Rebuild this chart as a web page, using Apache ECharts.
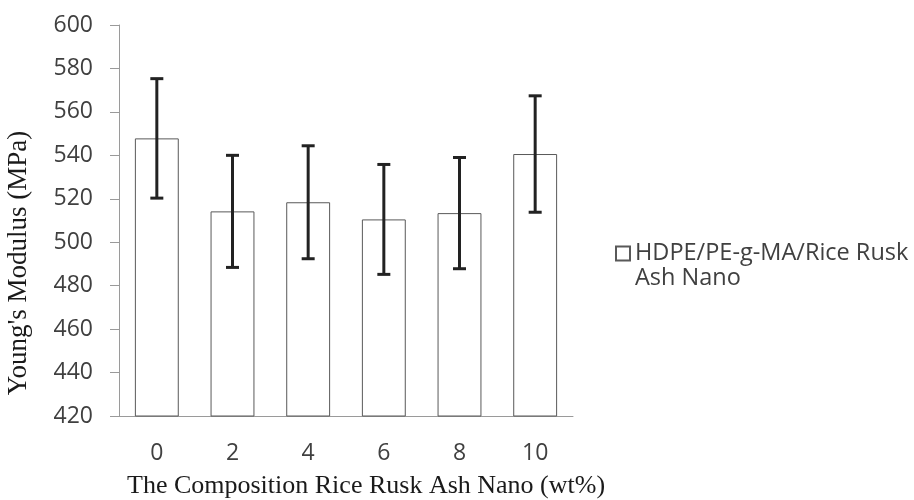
<!DOCTYPE html>
<html>
<head>
<meta charset="utf-8">
<script src="https://cdn.jsdelivr.net/npm/echarts@6/dist/echarts.min.js"></script>
<style>html,body{margin:0;padding:0;background:#fff}#main{width:914px;height:500px}</style>
</head>
<body>
<div id="main"></div>
<script>
var categories = ['0', '2', '4', '6', '8', '10'];
var modulus = [547.8, 514.2, 518.4, 510.5, 513.4, 540.6];
var stdDev = [27.5, 25.8, 26.0, 25.3, 25.6, 26.8];
var yTicks = [420, 440, 460, 480, 500, 520, 540, 560, 580, 600];
var seriesName = 'HDPE/PE-g-MA/Rice Rusk\nAsh Nano';
var xTitle = 'The Composition Rice Rusk Ash Nano (wt%)';
var yTitle = "Young's Modulus (MPa)";

var errorData = categories.map(function (c, i) {
  return [i, modulus[i] - stdDev[i], modulus[i] + stdDev[i]];
});

var chart = echarts.init(document.getElementById('main'));
chart.setOption({
  animation: false,
  backgroundColor: '#fff',
  grid: { left: 119, right: 341, top: 25, bottom: 84, containLabel: false },
  legend: {
    left: 615, top: 241, padding: 0,
    itemWidth: 14, itemHeight: 39,
    data: [{ name: seriesName, icon: 'path://M0,0L14,0L14,14L0,14Z M0,39' }],
    textStyle: { fontFamily: 'Open Sans', fontSize: 23.5, color: '#404040', lineHeight: 25 },
    itemGap: 5
  },
  xAxis: {
    type: 'category',
    data: categories,
    axisLine: { lineStyle: { color: '#9a9a9a', width: 1 } },
    axisTick: { show: false },
    axisLabel: { fontFamily: 'Open Sans', fontSize: 23, color: '#404040', margin: 26 }
  },
  yAxis: {
    type: 'value',
    min: yTicks[0], max: yTicks[yTicks.length - 1], interval: 20,
    splitLine: { show: false },
    axisLine: { show: true, lineStyle: { color: '#9a9a9a', width: 1 } },
    axisTick: { show: true, length: 9, lineStyle: { color: '#9a9a9a' } },
    axisLabel: { fontFamily: 'Open Sans', fontSize: 23, color: '#404040', margin: 26 }
  },
  series: [
    {
      name: seriesName,
      type: 'bar',
      data: modulus,
      barWidth: '58%',
      itemStyle: { color: '#ffffff', borderColor: '#595959', borderWidth: 1 }
    },
    {
      type: 'custom',
      name: 'error',
      data: errorData,
      z: 10,
      renderItem: function (params, api) {
        var x = api.value(0);
        var lo = api.coord([x, api.value(1)]);
        var hi = api.coord([x, api.value(2)]);
        var hw = 6.5;
        var st = { stroke: '#222', lineWidth: 3 };
        return {
          type: 'group',
          children: [
            { type: 'line', shape: { x1: hi[0], y1: hi[1], x2: lo[0], y2: lo[1] }, style: st },
            { type: 'line', shape: { x1: hi[0] - hw, y1: hi[1], x2: hi[0] + hw, y2: hi[1] }, style: st },
            { type: 'line', shape: { x1: lo[0] - hw, y1: lo[1], x2: lo[0] + hw, y2: lo[1] }, style: st }
          ]
        };
      }
    }
  ],
  graphic: [
    {
      type: 'text', left: 127, top: 473,
      style: { text: xTitle, font: '26px "Liberation Serif"', fill: '#1a1a1a' }
    },
    {
      type: 'text', x: 19, y: 263, rotation: Math.PI / 2,
      style: { text: yTitle, font: '27px "Liberation Serif"', fill: '#1a1a1a', align: 'center', verticalAlign: 'middle' }
    }
  ]
});
</script>
</body>
</html>
